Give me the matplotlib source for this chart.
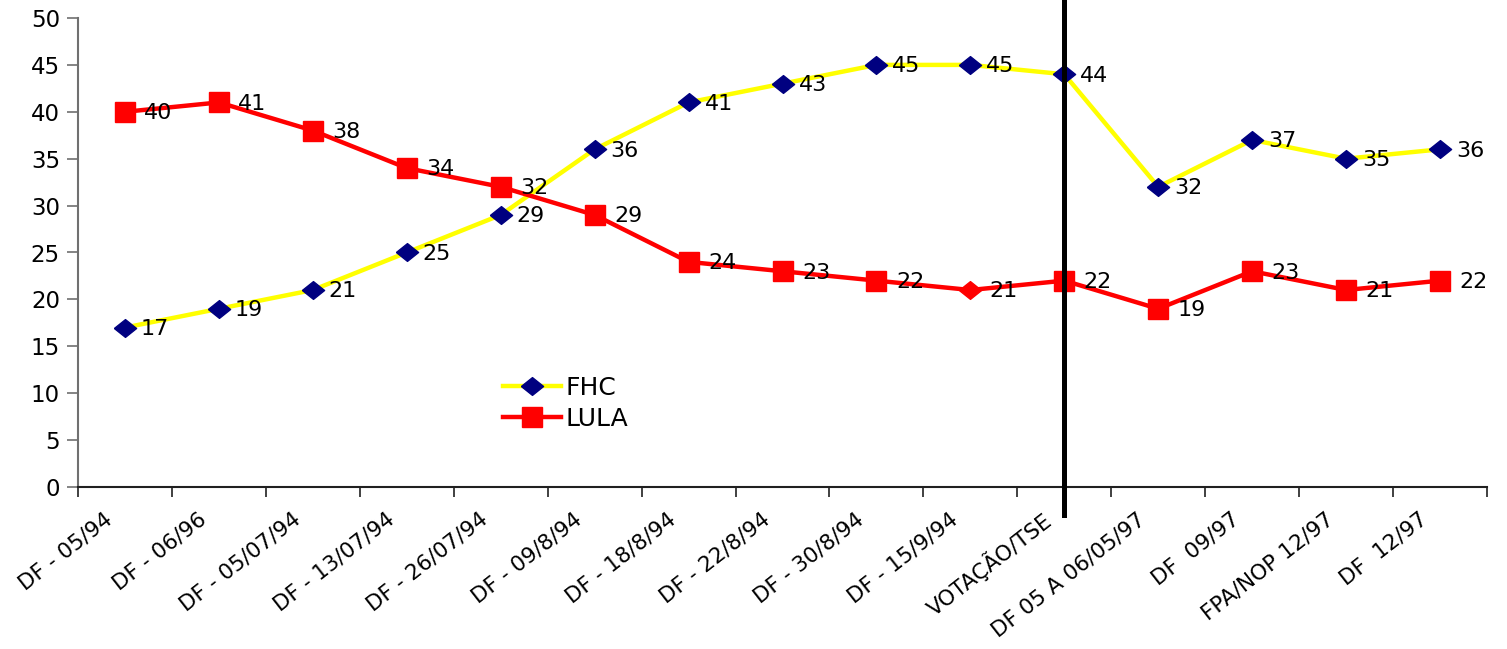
import matplotlib
matplotlib.use("Agg")
import matplotlib.pyplot as plt
from matplotlib.transforms import ScaledTranslation
import numpy as np

categories = ["DF - 05/94", "DF - 06/96", "DF - 05/07/94", "DF - 13/07/94",
              "DF - 26/07/94", "DF - 09/8/94", "DF - 18/8/94", "DF - 22/8/94",
              "DF - 30/8/94", "DF - 15/9/94", "VOTAÇÃO/TSE", "DF 05 A 06/05/97",
              "DF  09/97", "FPA/NOP 12/97", "DF  12/97"]
fhc = [17, 19, 21, 25, 29, 36, 41, 43, 45, 45, 44, 32, 37, 35, 36]
lula = [40, 41, 38, 34, 32, 29, 24, 23, 22, 21, 22, 19, 23, 21, 22]
lula_diamond_idx = [9]
vline_cat = 10

plt.rcParams['font.family'] = ['DejaVu Sans']

fig = plt.figure(figsize=(15.07, 6.49), dpi=100)
ax = fig.add_axes([78/1507, 1-487/649, (1487-78)/1507, (487-18)/649])

x = np.arange(len(categories))
diamond = [(-1, 0), (0, 0.8), (1, 0), (0, -0.8), (-1, 0)]

ax.plot(x, fhc, color='#FFFF00', lw=3.2, zorder=3)
ax.plot(x, fhc, linestyle='none', marker=diamond, markersize=16,
        color='#000080', zorder=4)
ax.plot(x, lula, color='#FF0000', lw=3.2, zorder=3)
sq_idx = [i for i in x if i not in lula_diamond_idx]
ax.plot(x[sq_idx], np.array(lula)[sq_idx], linestyle='none', marker='s',
        markersize=14, color='#FF0000', zorder=4)
ax.plot(x[lula_diamond_idx], np.array(lula)[lula_diamond_idx], linestyle='none',
        marker=diamond, markersize=16, color='#FF0000', zorder=4)

# legend proxies
h1, = ax.plot([], [], color='#FFFF00', lw=3.2, marker=diamond, markersize=16,
              markerfacecolor='#000080', markeredgecolor='#000080')
h2, = ax.plot([], [], color='#FF0000', lw=3.2, marker='s', markersize=14)
leg = ax.legend([h1, h2], ['FHC', 'LULA'], loc='upper left',
                bbox_to_anchor=((503-78)/1409, (487-376)/469), frameon=False,
                fontsize=18, handlelength=2.3, handletextpad=0.2,
                labelspacing=0.27, borderaxespad=0, borderpad=0)

for xi, v in zip(x, fhc):
    ax.annotate(str(v), (xi, v), xytext=(11.5, -1), textcoords='offset points',
                ha='left', va='center', fontsize=16, zorder=5)
for xi, v in zip(x, lula):
    ax.annotate(str(v), (xi, v), xytext=(14, -1), textcoords='offset points',
                ha='left', va='center', fontsize=16, zorder=5)

ax.axvline(vline_cat, ymin=-0.06, ymax=1.04, color='black', lw=3.6,
           clip_on=False, zorder=6)

ax.set_xlim(-0.5, len(categories) - 0.5)
ax.set_ylim(0, 50)
ax.set_yticks(np.arange(0, 51, 5))
ax.set_xticks(x)
ax.set_xticks(np.arange(-0.5, len(categories), 1), minor=True)
ax.set_xticklabels(categories, rotation=38, ha='right', va='center',
                   rotation_mode='anchor', fontsize=15.5)
ax.tick_params(axis='x', which='major', length=0, pad=0)
ax.tick_params(axis='x', which='minor', length=7, width=1.2, color='#202020')
ax.tick_params(axis='y', length=8, width=1.2, color='#707070', labelsize=16.5, pad=5)

off = ScaledTranslation(-15/100, -30/100, fig.dpi_scale_trans)
for lab in ax.get_xticklabels():
    lab.set_transform(lab.get_transform() + off)

for s in ['top', 'right']:
    ax.spines[s].set_visible(False)
ax.spines['left'].set_color('#707070')
ax.spines['left'].set_linewidth(1.5)
ax.spines['bottom'].set_color('#202020')
ax.spines['bottom'].set_linewidth(1.5)

fig.savefig('out.png', dpi=100)
